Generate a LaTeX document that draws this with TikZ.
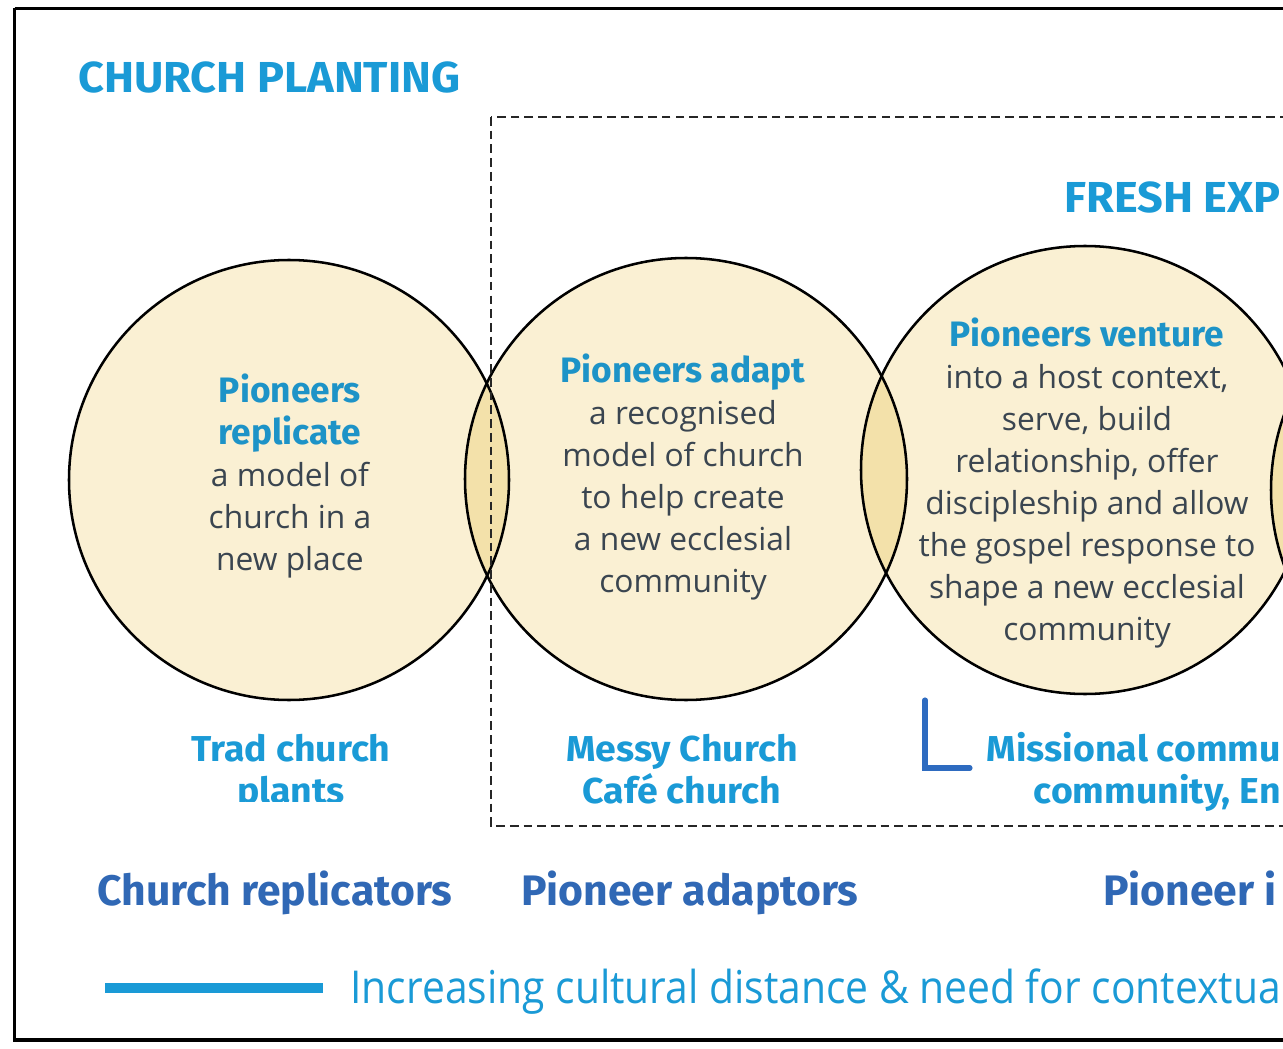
\documentclass[tikz,border=0pt]{standalone}
\usepackage{fontspec}
\usepackage{xcolor}
\newfontfamily\headfont{Fira Sans}
\newfontfamily\titlefont[FakeStretch=1.04]{Fira Sans}
\newfontfamily\labfont[FakeStretch=1.04]{Fira Sans}
\newfontfamily\bodyfont{Open Sans}
\newfontfamily\linefont[FakeStretch=0.9]{Open Sans}
\definecolor{cream}{HTML}{FAF0D3}
\definecolor{lensc}{HTML}{F3E1AA}
\definecolor{titleblue}{HTML}{1A9AD6}
\definecolor{headblue}{HTML}{1D93C7}
\definecolor{darkblue}{HTML}{3068B5}
\definecolor{bodygrey}{HTML}{3A4550}
\definecolor{markblue}{HTML}{2E6BC0}
\newcommand\hl[1]{{\headfont\bfseries\fontsize{26.5}{31.5}\selectfont\color{headblue}#1}}
\tikzset{
  circfill/.style={circle, inner sep=0pt, fill=cream},
  outl/.style={line width=1.9pt, black},
  lens/.style={fill=lensc},
  dashbox/.style={line width=1.5pt, dash pattern=on 6.5pt off 3.8pt, black!85},
  frame/.style={line width=2.4pt, black},
  title/.style={font=\titlefont\bfseries\fontsize{32.5}{36}\selectfont, text=titleblue, inner sep=0pt},
  ctext/.style={font=\bodyfont\fontsize{23.8}{31.5}\selectfont, text=bodygrey, align=center, inner sep=0pt},
  lab/.style={font=\labfont\bfseries\fontsize{27}{31.5}\selectfont, text=titleblue, align=center, inner sep=0pt},
  role/.style={font=\headfont\bfseries\fontsize{32}{36}\selectfont, text=darkblue, inner sep=0pt},
  bar/.style={line width=7.5pt, titleblue},
  linetext/.style={font=\linefont\fontsize{34}{38}\selectfont, text=titleblue, inner sep=0pt},
  lmark/.style={line width=3.8pt, markblue, line cap=round}
}
\begin{document}
\begin{tikzpicture}[x=0.75pt,y=-0.75pt]
\useasboundingbox (0,0) rectangle (1283,1049);
\clip (0,0) rectangle (1283,1049);
\fill[white] (0,0) rectangle (1283,1049);
% circles
\node[circfill, minimum size=330pt] (c1) at (289,480) {};
\node[circfill, minimum size=331.5pt] (c2) at (686,479) {};
\node[circfill, minimum size=336pt] (c3) at (1085,470) {};
\node[circfill, minimum size=333pt] (c4) at (1493,490) {};
% lenses
\begin{scope}
  \clip (c1.center) circle[radius=220];
  \fill[lens] (c2.center) circle[radius=221];
\end{scope}
\begin{scope}
  \clip (c2.center) circle[radius=221];
  \fill[lens] (c3.center) circle[radius=224];
\end{scope}
\begin{scope}
  \clip (c3.center) circle[radius=224];
  \fill[lens] (c4.center) circle[radius=222];
\end{scope}
\draw[outl] (c1.center) circle[radius=220];
\draw[outl] (c2.center) circle[radius=221];
\draw[outl] (c3.center) circle[radius=224];
\draw[outl] (c4.center) circle[radius=222];
% frames
\draw[frame] (14.5,8.5) -- (1300,8.5) (14.5,8.5) -- (14.5,1040) -- (1300,1040);
\coordinate (fenw) at (491,117);
\coordinate (fese) at (1300,826);
\draw[dashbox] (fenw) rectangle (fese);
% titles
\node[title, anchor=base west] (cp) at (78,93) {CHURCH PLANTING};
\node[title, anchor=base east] (fe) at (1281,212) {FRESH EXP};
% circle texts
\node[ctext] (t1) at (290,476) {\hl{Pioneers}\\\hl{replicate}\\a model of\\church in a\\new place};
\node[ctext] (t2) at (683,477) {\hl{Pioneers adapt}\\a recognised\\model of church\\to help create\\a new ecclesial\\community};
\node[ctext] (t3) at (1087,483) {\hl{Pioneers venture}\\into a host context,\\serve, build\\relationship, offer\\discipleship and allow\\the gospel response to\\shape a new ecclesial\\community};
% labels
\begin{scope}
  \clip (150,700) rectangle (440,801);
  \node[lab, anchor=base] (l1) at (291,761) {Trad church};
  \node[lab, anchor=base] (l1b) at (291,803) {plants};
\end{scope}
\node[lab, anchor=base] (l2) at (682,761) {Messy Church};
\node[lab, anchor=base] (l2b) at (682,803) {Café church};
\node[lab, anchor=base east] (l3) at (1281,761) {Missional commu};
\node[lab, anchor=base east] (l3b) at (1281,803) {community, En};
\draw[lmark] (925,700) |- (970,768);
% roles
\node[role, anchor=base west] (r1) at (97,905) {Church replicators};
\node[role, anchor=base west] (r2) at (521,905) {Pioneer adaptors};
\node[role, anchor=base west] (r3) at (1103,905) {Pioneer i};
% bottom line
\coordinate (bara) at (105,988);
\coordinate (barb) at (323,988);
\draw[bar] (bara) -- (barb);
\node[linetext, anchor=base east] (lt) at (1281,1003) {Increasing cultural distance \& need for contextua};
\end{tikzpicture}
\end{document}
